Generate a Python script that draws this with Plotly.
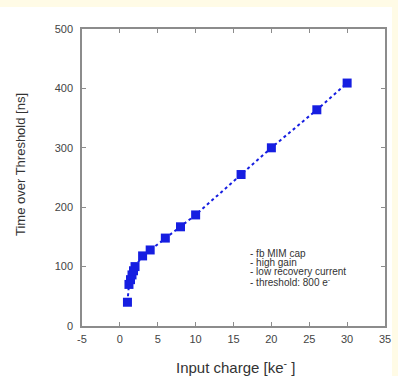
import plotly.graph_objects as go

# datos
carga = [1.0, 1.2, 1.4, 1.6, 1.8, 2.0, 3, 4, 6, 8, 10, 16, 20, 26, 30]
tot = [40, 70, 78, 86, 93, 100, 118, 128, 148, 167, 187, 255, 300, 364, 409]
x_ticks = [-5, 0, 5, 10, 15, 20, 25, 30, 35]
x_labels = ['-5', '0', '5', '10', '15', '20', '25', '30', '35']
y_ticks = [0, 100, 200, 300, 400, 500]
notas = ['- fb MIM cap', '- high gain', '- low recovery current', '- threshold: 800 e<sup>-</sup>']

azul = 'rgb(22,30,225)'
gris = 'rgb(140,140,140)'

fig = go.Figure(go.Scatter(
    x=carga, y=tot, mode='lines+markers',
    line=dict(color=azul, width=2, dash='dot'),
    marker=dict(symbol='square', size=9, color=azul),
))

eje = dict(showgrid=False, zeroline=False, showline=True, linecolor=gris, linewidth=1.5,
           mirror='ticks', ticks='inside', ticklen=4, tickcolor=gris, automargin=False,
           tickfont=dict(size=11, color='#444'))

fig.update_xaxes(eje, range=[-5, 35], tickvals=x_ticks, ticktext=x_labels, ticklabelstandoff=2)
fig.update_yaxes(eje, range=[0, 500], tickvals=y_ticks, ticklabelstandoff=5)

# titulos de ejes como anotaciones (posicion fija)
fig.add_annotation(text='Input charge [ke<sup>-</sup> ]', xref='paper', yref='paper', x=0.507, y=-0.135,
                   xanchor='center', yanchor='middle', showarrow=False, font=dict(size=15, color='#333'))
fig.add_annotation(text='Time over Threshold [ns]', xref='paper', yref='paper', x=-0.205, y=0.545,
                   xanchor='center', yanchor='middle', textangle=-90, showarrow=False,
                   font=dict(size=13, color='#333'))

# fondo blanco sobre el papel amarillo
fig.add_shape(type='rect', xref='paper', yref='paper', x0=-0.271, x1=1.023, y0=-0.17, y1=1.074,
              fillcolor='white', line_width=0, layer='below')

ys = [0.244, 0.213, 0.182, 0.148]
for txt, yy in zip(notas, ys):
    fig.add_annotation(text=txt, xref='paper', yref='paper', x=0.548, y=yy, xanchor='left', yanchor='middle',
                       showarrow=False, font=dict(size=10, color='#333'))

fig.update_layout(
    width=398, height=376, showlegend=False,
    margin=dict(l=82, r=13, t=29, b=50),
    paper_bgcolor='#fffbe6', plot_bgcolor='white',
    font=dict(family='Liberation Sans, Arial, sans-serif'),
)

fig.write_html('out.html', config={'displayModeBar': False},
               post_script="document.body.style.margin='0';")
